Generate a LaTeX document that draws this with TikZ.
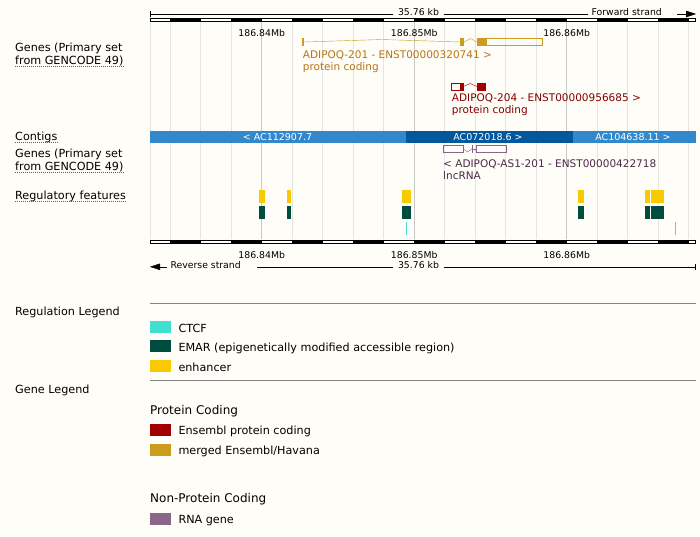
\documentclass[tikz,border=0pt]{standalone}
\usepackage{fontspec}
\setmainfont{DejaVu Sans}
\usetikzlibrary{arrows.meta,calc}

\definecolor{bgpaper}{HTML}{FFFDF7}
\definecolor{gridgray}{RGB}{228,228,226}
\definecolor{gridmid}{RGB}{200,200,198}
\definecolor{ulblue}{RGB}{60,100,170}
\definecolor{sepgray}{RGB}{130,130,130}
\definecolor{ctglight}{RGB}{51,136,204}
\definecolor{ctgdark}{RGB}{2,88,154}
\definecolor{gold}{RGB}{205,155,29}
\definecolor{goldtxt}{RGB}{184,116,26}
\definecolor{ensred}{RGB}{160,0,0}
\definecolor{redtxt}{RGB}{130,0,0}
\definecolor{rnapurple}{RGB}{139,102,139}
\definecolor{rnatxt}{RGB}{74,42,74}
\definecolor{ctcfcol}{RGB}{64,224,208}
\definecolor{emargrn}{RGB}{0,77,64}
\definecolor{enhyel}{RGB}{250,202,0}

\begin{document}
\begin{tikzpicture}[
    x=1pt, y=-1pt,
    lbl/.style={inner sep=0pt, anchor=base west, font=\fontsize{11.2}{13}\selectfont},
    hdr/.style={lbl, font=\fontsize{12}{14}\selectfont},
    mb/.style={inner sep=0pt, anchor=base, font=\fontsize{9.3}{11}\selectfont},
    kb/.style={mb, inner xsep=4.5pt},
    strand/.style={inner sep=0pt, anchor=base west, font=\fontsize{9.3}{11}\selectfont},
    glbl/.style={inner sep=0pt, anchor=base west, font=\fontsize{10.5}{12}\selectfont},
    ctg/.style={inner sep=0pt, text=white, font=\fontsize{9.5}{11}\selectfont},
    uline/.style={draw=ulblue, line width=0.8pt, dash pattern=on 1pt off 1pt},
    gline/.style={draw=gridgray, line width=1pt},
    sep/.style={draw=sepgray, line width=1pt},
    keybox/.style={inner sep=0pt, minimum width=21pt, minimum height=12pt, anchor=north west},
    tip/.style={-{Triangle[length=10pt, width=6.5pt]}}
]

\fill[bgpaper] (0,0) rectangle (700,536);
\useasboundingbox (0,0) rectangle (700,536);

% Grid lines behind the tracks
\draw[gline] (150,22) -- (150,239);
\foreach \k in {-3,...,14}
    \draw[gline] ({261.7+30.5*\k},22) -- ({261.7+30.5*\k},239);
\foreach \k in {0,5,10}
    \draw[gline, draw=gridmid] ({261.7+30.5*\k},22) -- ({261.7+30.5*\k},239);

% Top ruler
\coordinate (rt0) at (150,14);
\coordinate (rtend) at (696,14);
\draw (150,11) -- (150,17);
\node[kb] (kbtop) at (418.5,15) {35.76 kb};
\node[strand, inner xsep=3.5pt, anchor=base west] (fwd) at (588,15) {Forward strand};
\draw (rt0) -- (rt0 -| kbtop.west);
\draw (rt0 -| kbtop.east) -- (rt0 -| fwd.west);
\draw[tip] ($(rtend)+(-19,0)$) -- (rtend);

\draw[line width=1pt, fill=white] (150.5,18.5) rectangle (695.5,21.5);
\foreach \k in {-3,-1,...,13}
    \fill ({261.7+30.5*\k},18) rectangle ({292.2+30.5*\k},22);

\node[mb] (t84) at (261.7,36.7) {186.84Mb};
\node[mb] (t85) at (414.2,36.7) {186.85Mb};
\node[mb] (t86) at (566.7,36.7) {186.86Mb};

% Track names
\node[lbl] (genesa) at (15,51.7) {Genes (Primary set};
\node[lbl] (genesb) at (15,64.5) {from GENCODE 49)};
\draw[uline] ($(genesb.base west)+(0,2)$) -- ($(genesb.base east)+(0,2)$);
\node[lbl] (ctgs) at (15,140.3) {Contigs};
\draw[uline] ($(ctgs.base west)+(0,2)$) -- ($(ctgs.base east)+(0,2)$);
\node[lbl] (genesc) at (15,157.3) {Genes (Primary set};
\node[lbl] (genesd) at (15,170.3) {from GENCODE 49)};
\draw[uline] ($(genesd.base west)+(0,2)$) -- ($(genesd.base east)+(0,2)$);
\node[lbl] (regf) at (15,199.3) {Regulatory features\ };
\draw[uline] ($(regf.base west)+(0,2)$) -- ($(regf.base east)+(0,2)$);

% Forward strand genes
\draw[gold] (304,42) -- (382,39.5) -- (460,42);
\fill[gold] (302,38) rectangle (304,46);
\fill[gold] (460,38) rectangle (464,46);
\draw[gold] (464,42) -- (470.5,38.5) -- (477,42);
\fill[gold] (477,38) rectangle (486,46);
\draw[gold, line width=1pt] (486,38.5) rectangle (542.5,45.5);
\node[glbl, text=goldtxt] (t201) at (302.7,58.7) {ADIPOQ-201 - ENST00000320741 >};
\node[glbl, text=goldtxt] (t201b) at (302.7,70) {protein coding};

\draw[ensred, line width=1pt] (451.5,83) rectangle (460,90);
\fill[ensred] (460,82.5) rectangle (463.5,90.5);
\draw[ensred] (463.5,86.5) -- (470,83.5) -- (477,86.5);
\fill[ensred] (477,82.5) rectangle (486,90.5);
\node[glbl, text=redtxt] (t204) at (451.7,101.7) {ADIPOQ-204 - ENST00000956685 >};
\node[glbl, text=redtxt] (t204b) at (451.7,113) {protein coding};

% Contigs
\fill[ctglight] (150,131) rectangle (406,142.5);
\fill[ctgdark] (406,131) rectangle (573,142.5);
\fill[ctglight] (573,131) rectangle (696,142.5);
\node[ctg] (c1) at (277.5,137) {< AC112907.7};
\node[ctg] (c2) at (488,137) {AC072018.6 >};
\node[ctg] (c3) at (633,137) {AC104638.11 >};

% Reverse strand gene
\draw[rnapurple, line width=1pt] (443.5,145.5) rectangle (463,152);
\draw[rnapurple] (463,148.75) -- (467.5,152) -- (472,148.75);
\draw[rnapurple] (472.5,145) -- (472.5,152.5);
\draw[rnapurple] (472.5,148.75) -- (476,148.75);
\draw[rnapurple, line width=1pt] (476.5,145.5) rectangle (506,152);
\node[glbl, text=rnatxt] (tas1) at (443,167) {< ADIPOQ-AS1-201 - ENST00000422718};
\node[glbl, text=rnatxt] (tas1b) at (443,179) {lncRNA};

% Regulatory features
\foreach \xa/\xb in {259/265, 287/291, 402/411, 578/584, 645/650, 651/664} {
    \fill[enhyel] (\xa,190) rectangle (\xb,202.5);
    \fill[emargrn] (\xa,206) rectangle (\xb,218.5);
}
\draw[ctcfcol, line width=1pt] (406.3,221.7) -- (406.3,235);
\draw[ctcfcol, line width=1pt] (675.3,221.7) -- (675.3,235);

% Bottom ruler
\draw[line width=1pt, fill=white] (150.5,240) rectangle (695.5,243);
\foreach \k in {-3,-1,...,13}
    \fill ({261.7+30.5*\k},239.5) rectangle ({292.2+30.5*\k},243.5);

\node[mb] (b84) at (261.7,258.5) {186.84Mb};
\node[mb] (b85) at (414.2,258.5) {186.85Mb};
\node[mb] (b86) at (566.7,258.5) {186.86Mb};

\coordinate (rb0) at (150,266.8);
\coordinate (rbend) at (695.5,266.8);
\node[strand] (rev) at (170.4,268.5) {Reverse strand};
\node[kb] (kbbot) at (418.5,268.5) {35.76 kb};
\draw[tip] ($(rb0)+(17,0)$) -- (rb0);
\draw (257,266.8) -- (rb0 -| kbbot.west);
\draw (rb0 -| kbbot.east) -- (rbend);
\draw (695.5,263.5) -- (695.5,270);

% Regulation legend
\draw[sep] (150,303.5) -- (696,303.5);
\node[lbl] (reglg) at (15,315.5) {Regulation Legend};
\node[keybox, fill=ctcfcol] (kctcf) at (150,321) {};
\node[lbl] (tctcf) at (178.3,332.5) {CTCF};
\node[keybox, fill=emargrn] (kemar) at (150,340) {};
\node[lbl] (temar) at (178.3,351.5) {EMAR (epigenetically modified accessible region)};
\node[keybox, fill=enhyel] (kenh) at (150,360) {};
\node[lbl] (tenh) at (178.3,371.5) {enhancer};

% Gene legend
\draw[sep] (150,380.8) -- (696,380.8);
\node[lbl] (genelg) at (15,393) {Gene Legend};
\node[hdr] (pc) at (150,414.2) {Protein Coding};
\node[keybox, fill=ensred] (kens) at (150,423.3) {};
\node[lbl] (tens) at (178.3,434.7) {Ensembl protein coding};
\node[keybox, fill=gold] (kmrg) at (150,443.3) {};
\node[lbl] (tmrg) at (178.3,454.7) {merged Ensembl/Havana};
\node[hdr] (npc) at (150,502) {Non-Protein Coding};
\node[keybox, fill=rnapurple] (krna) at (150,512.3) {};
\node[lbl] (trna) at (178.3,523.8) {RNA gene};

\end{tikzpicture}
\end{document}
